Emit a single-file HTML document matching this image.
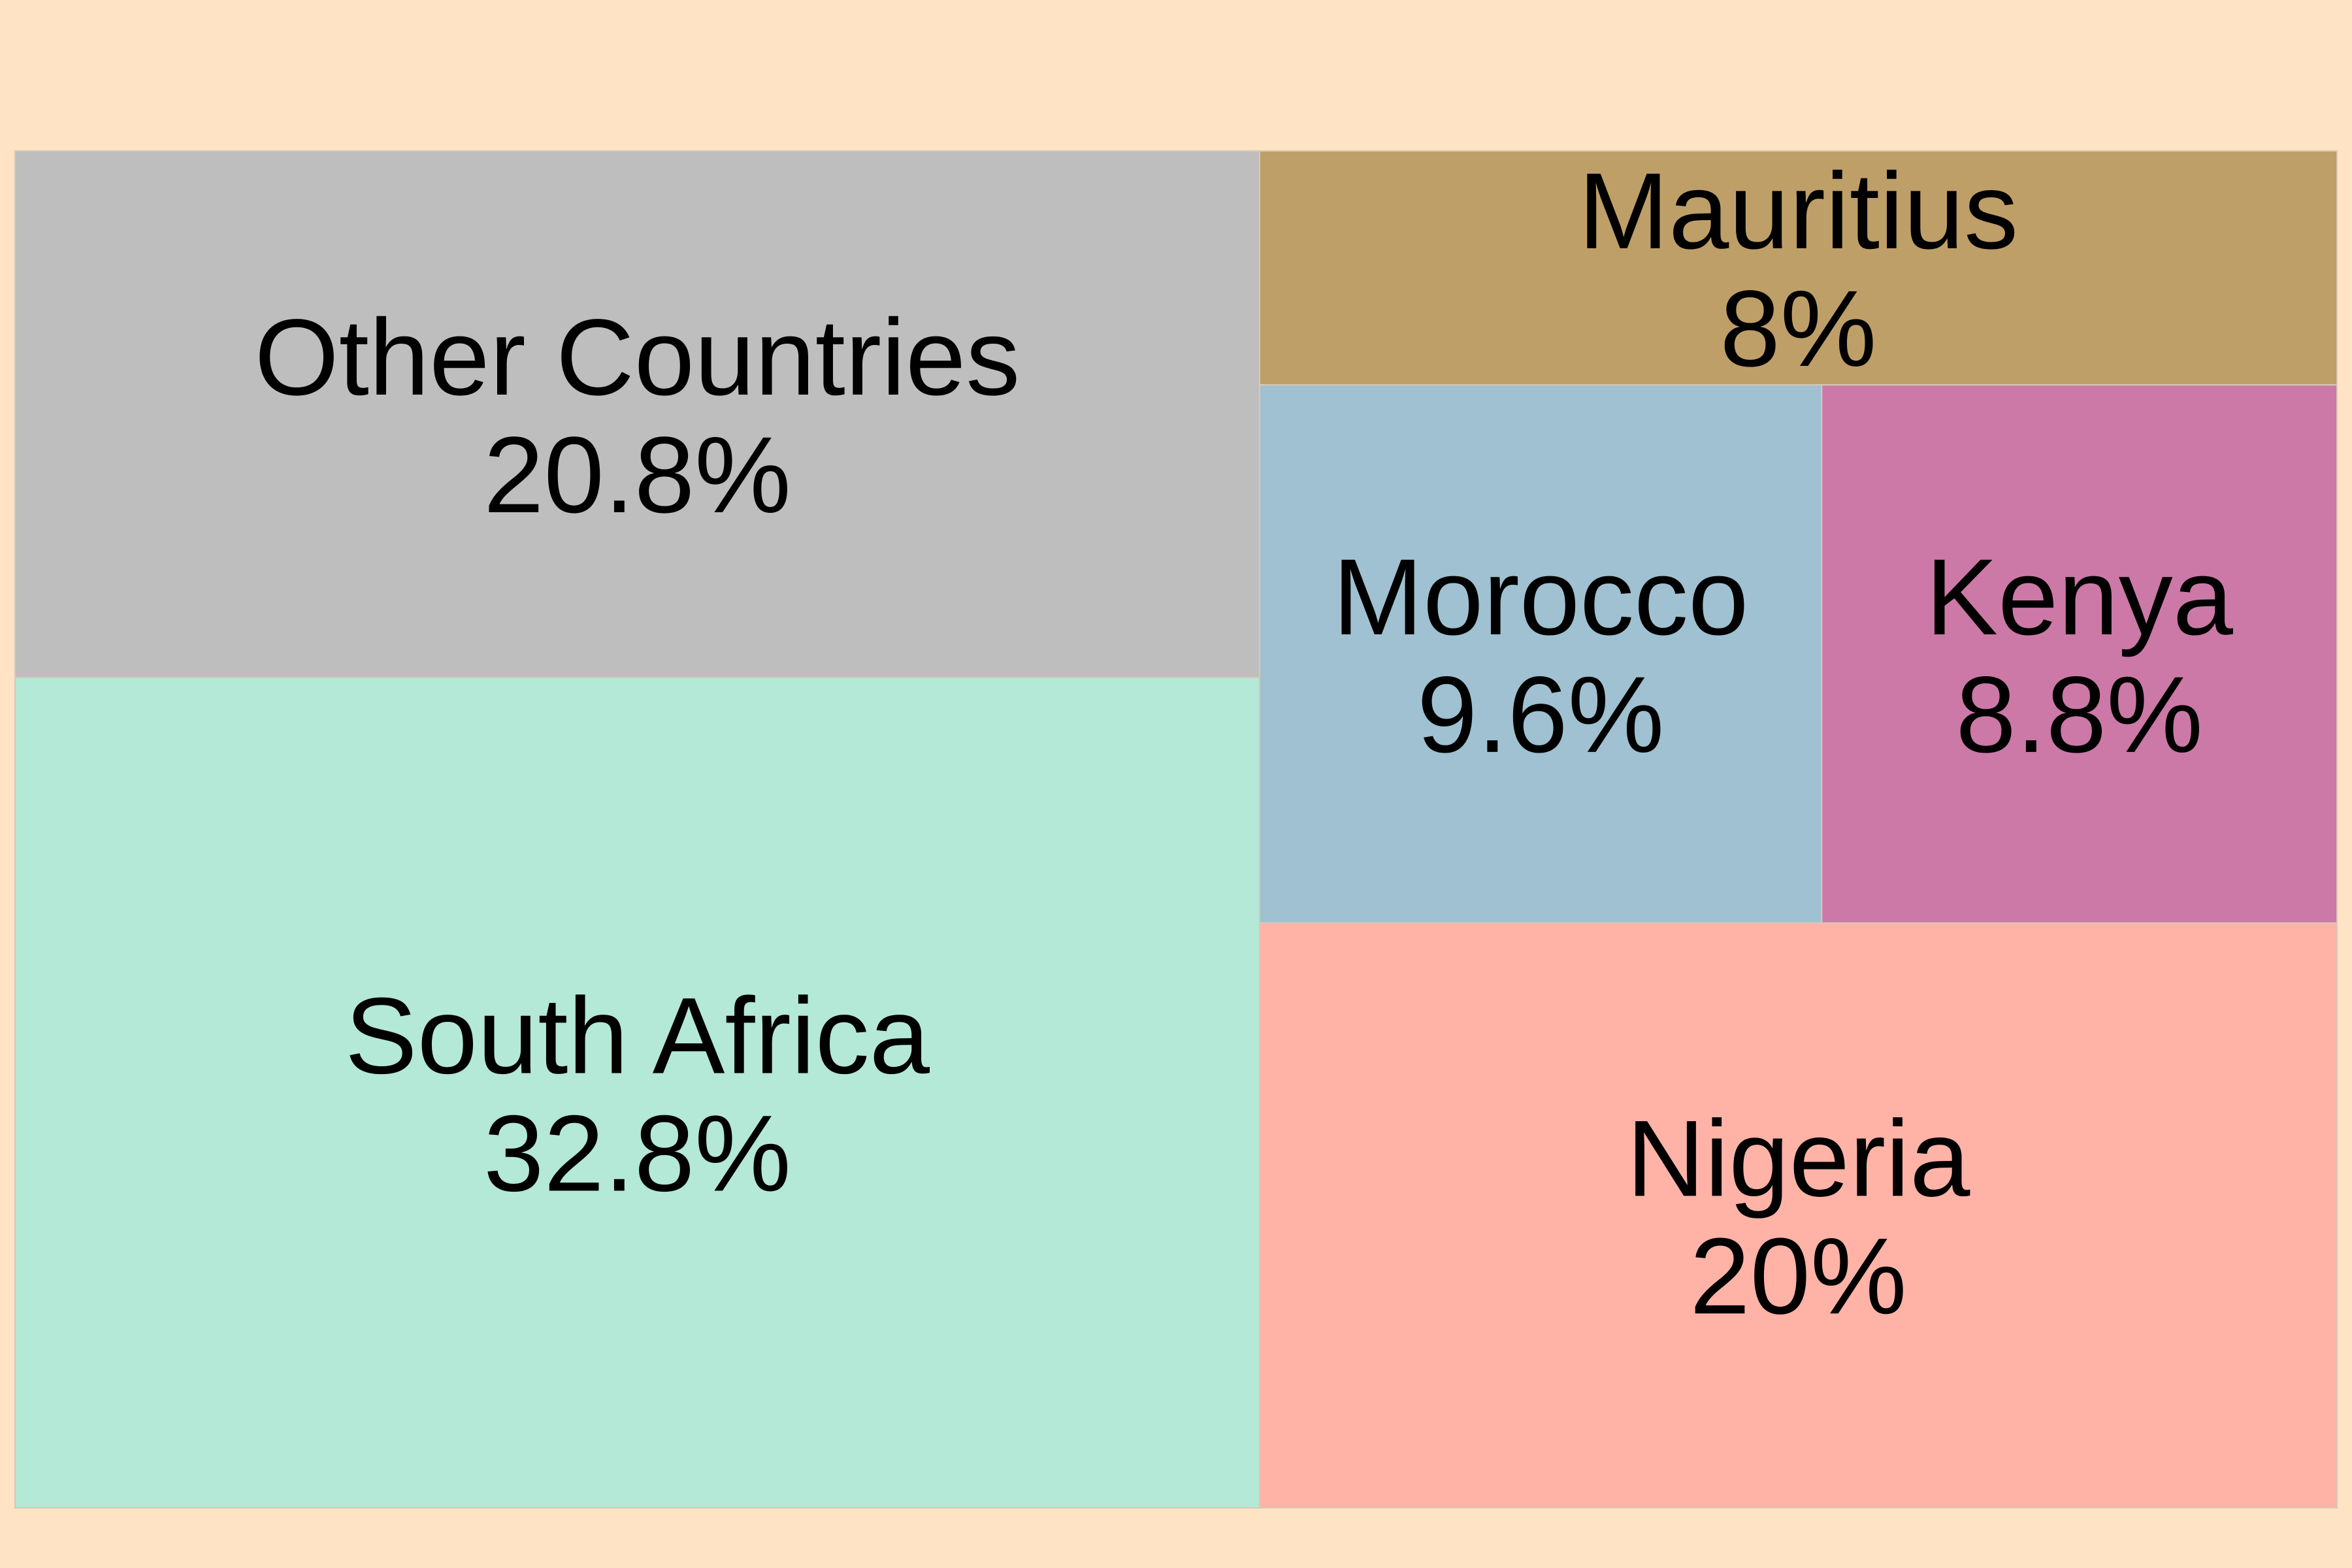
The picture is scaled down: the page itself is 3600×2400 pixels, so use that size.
<!DOCTYPE html>
<html><head><meta charset="utf-8"><style>
html,body{margin:0;padding:0;background:#fee3c4;}
svg{display:block;}
text{font-family:"Liberation Sans",Arial,sans-serif;font-size:166px;fill:#000;}
</style></head><body>
<svg id="chart" width="3600" height="2400" xmlns="http://www.w3.org/2000/svg">
<rect x="0" y="0" width="3600" height="2400" fill="#fee3c4"/>
<g id="tiles"></g>
</svg>
<script>
const leftLabels = ["Other Countries", "South Africa"];
const leftValues = [20.8, 32.8];
const topRightLabels = ["Mauritius"];
const topRightValues = [8];
const midRowLabels = ["Morocco", "Kenya"];
const midRowValues = [9.6, 8.8];
const bottomRightLabels = ["Nigeria"];
const bottomRightValues = [20];
const colors = {"Other Countries":"#bebebe","South Africa":"#b3e9d6","Mauritius":"#bf9f68","Morocco":"#9fc1d1","Kenya":"#cc79a7","Nigeria":"#ffb3a7"};

const X0=23, X1=3577, Y0=231, Y1=2308;
const NS="http://www.w3.org/2000/svg";
const g=document.getElementById('tiles');
const sum=a=>a.reduce((s,v)=>s+v,0);
const fmt=v=>(Math.round(v*10)/10)+"%";

function tile(label,value,x,y,w,h){
  const r=document.createElementNS(NS,'rect');
  r.setAttribute('x',x);r.setAttribute('y',y);r.setAttribute('width',w);r.setAttribute('height',h);
  r.setAttribute('fill',colors[label]);r.setAttribute('stroke','#d8c8b8');r.setAttribute('stroke-width','2');
  
  
  g.appendChild(r);
  const cx=x+w/2, cy=y+h/2;
  const t1=document.createElementNS(NS,'text');
  t1.setAttribute('x',cx);t1.setAttribute('y',cy-30);t1.setAttribute('text-anchor','middle');
  t1.textContent=label;
  
  
  g.appendChild(t1);
  const t2=document.createElementNS(NS,'text');
  t2.setAttribute('x',cx);t2.setAttribute('y',cy+150);t2.setAttribute('text-anchor','middle');
  t2.textContent=fmt(value);
  
  
  g.appendChild(t2);
}

const leftSum=sum(leftValues);
const rightGroups=[[topRightLabels,topRightValues,false],[midRowLabels,midRowValues,true],[bottomRightLabels,bottomRightValues,false]];
const rightSum=sum(topRightValues)+sum(midRowValues)+sum(bottomRightValues);
const total=leftSum+rightSum;
const W=X1-X0, H=Y1-Y0;
const splitX=X0+W*leftSum/total;

// left column stacked vertically
let y=Y0;
leftLabels.forEach((l,i)=>{const h=H*leftValues[i]/leftSum;tile(l,leftValues[i],X0,y,splitX-X0,h);y+=h;});

// right column: stacked groups, middle group split horizontally
y=Y0;
const rw=X1-splitX;
rightGroups.forEach(([labs,vals,horiz])=>{
  const gs=sum(vals);const h=H*gs/rightSum;
  if(horiz){let x=splitX;labs.forEach((l,i)=>{const w=rw*vals[i]/gs;tile(l,vals[i],x,y,w,h);x+=w;});}
  else{let yy=y;labs.forEach((l,i)=>{const hh=h*vals[i]/gs;tile(l,vals[i],splitX,yy,rw,hh);yy+=hh;});}
  y+=h;
});
</script>
</body></html>
